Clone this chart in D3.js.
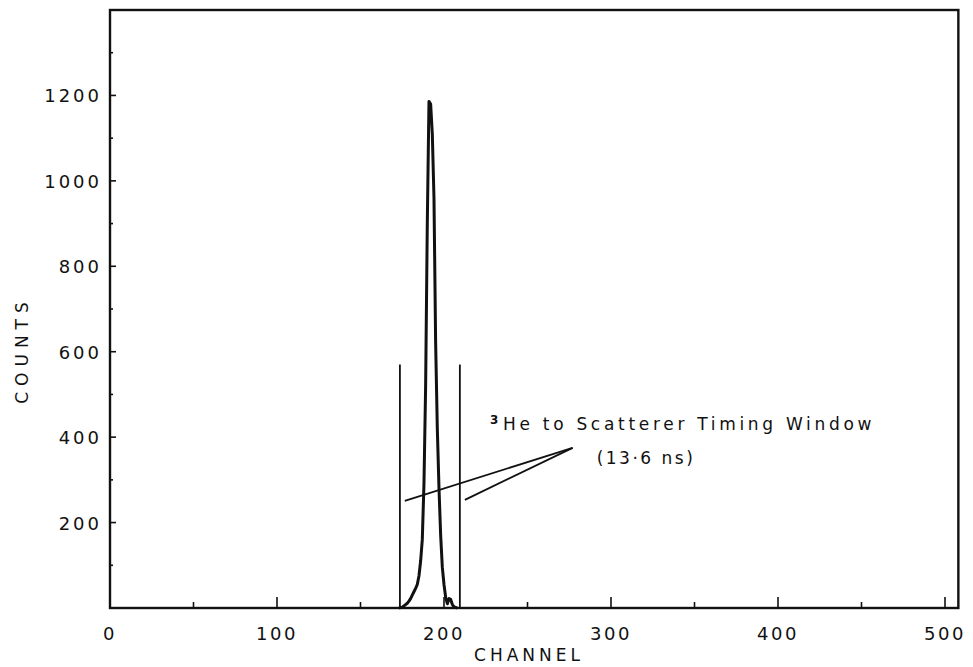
<!DOCTYPE html>
<html>
<head>
<meta charset="utf-8">
<script src="https://cdn.jsdelivr.net/npm/d3@7/dist/d3.min.js"></script>
<style>
  html, body { margin: 0; padding: 0; background: #fff; }
  svg { display: block; }
  text { font-family: "DejaVu Sans", "Liberation Sans", sans-serif; fill: #111; }
</style>
</head>
<body>
<svg id="chart" width="973" height="667"></svg>
<script>
// Time-of-flight spectrum: counts per channel
const channels = [173,174,175,176,177,178,179,180,181,182,183,184,185,186,187,188,189,190,
                  191,192,193,194,195,196,197,198,199,200,201,202,203,204,205,206,207,208];
const counts   = [0,1,2,5,8,11,16,22,30,38,46,55,75,110,160,290,520,900,
                  1186,1180,1110,960,620,420,280,170,95,55,25,10,22,20,8,3,1,0];

// Axis ticks
const xMajorTicks = [0,100,200,300,400,500];
const xMinorTicks = [50,150,250,350,450];
const yMajorTicks = [200,400,600,800,1000,1200];
const yMinorTicks = [100,300,500,700,900,1100,1300];

// Axis extents
const xMax = [508];
const yMax = [1400];

// Timing window edges (channels) and height of the marker lines (counts)
const windowEdges = [173.6, 209.5];
const windowTop = [570];

// Annotation text and leader lines (channel, counts)
const annotationLines = ["He to Scatterer Timing Window", "(13·6 ns)"];
const leaderTarget = [277, 375];
const leaderStarts = [[176.5, 251], [212.5, 253]];

const svg = d3.select("#chart");
const x = d3.scaleLinear().domain([0, 500]).range([110, 945]);
const y = d3.scaleLinear().domain([0, yMax[0]]).range([608, 10]);
const ink = "#111";

// Frame
svg.append("rect")
  .attr("x", x(0)).attr("y", y(yMax[0]))
  .attr("width", x(xMax[0]) - x(0)).attr("height", y(0) - y(yMax[0]))
  .attr("fill", "none").attr("stroke", ink).attr("stroke-width", 2.4);

// X ticks (pointing inward)
svg.append("g").selectAll("line").data(xMajorTicks.concat(xMinorTicks)).join("line")
  .attr("x1", d => x(d)).attr("x2", d => x(d))
  .attr("y1", y(0)).attr("y2", d => y(0) - (d % 100 === 0 ? 11 : 6))
  .attr("stroke", ink).attr("stroke-width", 1.6);

// Y ticks (pointing inward)
svg.append("g").selectAll("line").data(yMajorTicks.concat(yMinorTicks)).join("line")
  .attr("y1", d => y(d)).attr("y2", d => y(d))
  .attr("x1", x(0)).attr("x2", d => x(0) + (d % 200 === 0 ? 6 : 3))
  .attr("stroke", ink).attr("stroke-width", 1.6);

// X tick labels
svg.append("g").selectAll("text").data(xMajorTicks).join("text")
  .attr("x", d => x(d)).attr("y", 640)
  .attr("text-anchor", "middle")
  .attr("font-size", 18).attr("letter-spacing", 2.5)
  .text(d => d);

// Y tick labels
svg.append("g").selectAll("text").data(yMajorTicks).join("text")
  .attr("x", 102).attr("y", d => y(d) + 7)
  .attr("text-anchor", "end")
  .attr("font-size", 18).attr("letter-spacing", 3)
  .text(d => d);

// Axis titles
svg.append("text")
  .attr("x", 529).attr("y", 661)
  .attr("text-anchor", "middle")
  .attr("font-size", 17).attr("letter-spacing", 4)
  .text("CHANNEL");

svg.append("text")
  .attr("transform", "translate(28,350) rotate(-90)")
  .attr("text-anchor", "middle")
  .attr("font-size", 17).attr("letter-spacing", 6)
  .text("COUNTS");

// Spectrum trace
const line = d3.line()
  .x((d, i) => x(channels[i]))
  .y(d => y(d))
  .curve(d3.curveLinear);

svg.append("path")
  .datum(counts)
  .attr("d", line)
  .attr("fill", "none")
  .attr("stroke", ink)
  .attr("stroke-width", 3)
  .attr("stroke-linejoin", "round");

// Timing window markers
svg.append("g").selectAll("line").data(windowEdges).join("line")
  .attr("x1", d => x(d)).attr("x2", d => x(d))
  .attr("y1", y(0)).attr("y2", y(windowTop[0]))
  .attr("stroke", ink).attr("stroke-width", 1.8);

// Leader lines
svg.append("g").selectAll("line").data(leaderStarts).join("line")
  .attr("x1", d => x(d[0])).attr("y1", d => y(d[1]))
  .attr("x2", x(leaderTarget[0])).attr("y2", y(leaderTarget[1]))
  .attr("stroke", ink).attr("stroke-width", 1.8);

// Annotation
const ann = svg.append("text")
  .attr("x", 490).attr("y", 430)
  .attr("font-size", 17).attr("letter-spacing", 3.7);
ann.append("tspan").attr("font-size", 12).attr("font-weight", "bold").attr("dy", -6).text("3");
ann.append("tspan").attr("dy", 6).attr("dx", 1).text(annotationLines[0]);

svg.append("text")
  .attr("x", 646).attr("y", 464)
  .attr("text-anchor", "middle")
  .attr("font-size", 17).attr("letter-spacing", 2.5)
  .text(annotationLines[1]);
</script>
</body>
</html>
